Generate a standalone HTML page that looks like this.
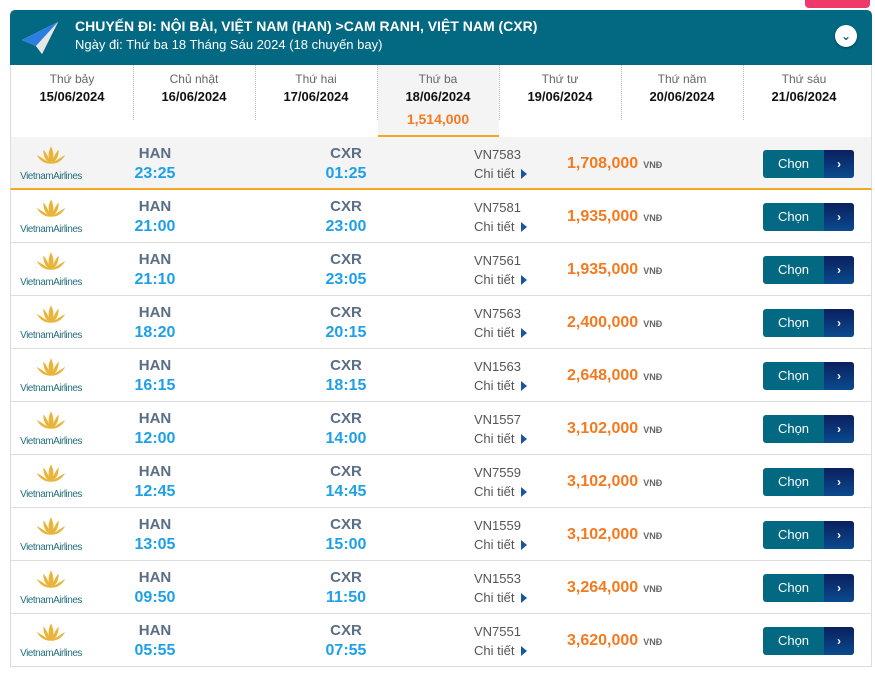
<!DOCTYPE html>
<html><head><meta charset="utf-8"><style>
*{margin:0;padding:0;box-sizing:border-box}
body{width:875px;height:678px;background:#fff;position:relative;overflow:hidden;font-family:"Liberation Sans","DejaVu Sans",sans-serif}
.a{position:absolute;white-space:nowrap}
.hdr{left:10px;top:10px;width:862px;height:55px;background:#036882;border-radius:5px 5px 0 0}
.tab{position:absolute;top:65px;width:122px;height:72px;text-align:center}
.tab .d{position:absolute;top:7px;left:0;right:0;font-size:12px;color:#666}
.tab .t{position:absolute;top:24px;left:0;right:0;font-size:13px;font-weight:bold;color:#111}
.sep{position:absolute;top:65px;height:55px;border-left:1px dotted #bbb}
.row{position:absolute;left:10px;width:862px;height:53px;border-bottom:1px solid #ddd;border-left:1px solid #ddd;border-right:1px solid #ddd}
.row .ap{position:absolute;left:124px;width:40px;text-align:center;top:8px;font-size:15px;font-weight:bold;color:#5a6e85}
.row .tm{position:absolute;left:114px;width:60px;text-align:center;top:28px;font-size:16px;font-weight:bold;color:#1ea0e8}
.row .fn{position:absolute;left:463px;top:10px;font-size:13px;color:#555}
.row .ct{position:absolute;left:463px;top:29px;font-size:13px;color:#555}
.row .ct i{display:inline-block;width:0;height:0;border-left:6px solid #1a56a0;border-top:5px solid transparent;border-bottom:5px solid transparent;margin-left:7px;vertical-align:-1px}
.row .pr{position:absolute;left:556px;top:18px;font-size:16px;font-weight:bold;color:#f37a1f}
.row .pr span{font-size:9px;color:#666;margin-left:5px}
.btn{position:absolute;left:752px;top:13px;width:91px;height:28px;border-radius:3px;overflow:hidden;background:#036882}
.btn b{position:absolute;left:0;width:61px;top:6px;text-align:center;color:#fff;font-size:13px;font-weight:normal}
.btn s{position:absolute;right:0;top:0;width:30px;height:28px;background:linear-gradient(#0b1f5e,#0a4b8f);color:#fff;text-decoration:none;text-align:center;font-size:12px;line-height:28px;font-weight:bold}
.logo{position:absolute;left:5px;top:7px;width:70px;text-align:center}
.logo div{font-size:10px;color:#25707e;margin-top:0px;letter-spacing:-0.5px}
</style></head><body>
<div class="a" style="left:805px;top:0;width:65px;height:8px;background:#f0386b;border-radius:0 0 4px 4px"></div>
<div class="a hdr"></div>
<svg class="a" style="left:20px;top:20px" width="40" height="36" viewBox="0 0 40 36"><polygon points="2,20 38,2 22,34 16,26" fill="#fff"/><polygon points="2,20 38,2 16,26" fill="#2b7fe0"/><polygon points="16,26 38,2 22,34" fill="#e6e6e6"/></svg>
<div class="a" style="left:75px;top:18px;font-size:14px;font-weight:bold;color:#fff">CHUYẾN ĐI: NỘI BÀI, VIỆT NAM (HAN) &gt;CAM RANH, VIỆT NAM (CXR)</div>
<div class="a" style="left:75px;top:37px;font-size:13px;color:#fff">Ngày đi: Thứ ba 18 Tháng Sáu 2024 (18 chuyến bay)</div>
<div class="a" style="left:835px;top:25px;width:22px;height:22px;border-radius:50%;background:#fff;box-shadow:0 1px 2px rgba(0,0,0,.4);text-align:center;font-size:12px;font-weight:bold;color:#036882;line-height:22px">⌄</div>
<div class="a" style="left:10px;top:65px;width:1px;height:72px;background:#ddd"></div>
<div class="a" style="left:871px;top:65px;width:1px;height:72px;background:#ddd"></div>
<div class="a" style="left:378px;top:65px;width:121px;height:72px;background:#f4f4f4;border-bottom:2px solid #f5a623"></div>
<div class="sep" style="left:133px"></div><div class="sep" style="left:255px"></div><div class="sep" style="left:377px"></div><div class="sep" style="left:499px"></div><div class="sep" style="left:621px"></div><div class="sep" style="left:743px"></div>
<div class="tab" style="left:11px"><div class="d">Thứ bảy</div><div class="t">15/06/2024</div></div>
<div class="tab" style="left:133px"><div class="d">Chủ nhật</div><div class="t">16/06/2024</div></div>
<div class="tab" style="left:255px"><div class="d">Thứ hai</div><div class="t">17/06/2024</div></div>
<div class="tab" style="left:377px"><div class="d">Thứ ba</div><div class="t">18/06/2024</div><div class="a" style="top:46px;left:0;right:0;font-size:14px;font-weight:bold;color:#f37a1f">1,514,000</div></div>
<div class="tab" style="left:499px"><div class="d">Thứ tư</div><div class="t">19/06/2024</div></div>
<div class="tab" style="left:621px"><div class="d">Thứ năm</div><div class="t">20/06/2024</div></div>
<div class="tab" style="left:743px"><div class="d">Thứ sáu</div><div class="t">21/06/2024</div></div>
<div class="a" style="left:10px;top:137px;width:862px;height:1px;background:#ddd"></div>
<div id="rows"></div>
<script>
var d=[["23:25","01:25","VN7583","1,708,000"],["21:00","23:00","VN7581","1,935,000"],["21:10","23:05","VN7561","1,935,000"],["18:20","20:15","VN7563","2,400,000"],["16:15","18:15","VN1563","2,648,000"],["12:00","14:00","VN1557","3,102,000"],["12:45","14:45","VN7559","3,102,000"],["13:05","15:00","VN1559","3,102,000"],["09:50","11:50","VN1553","3,264,000"],["05:55","07:55","VN7551","3,620,000"]];
var h="";
var lotus='<svg width="34" height="22" viewBox="0 0 30 20"><g fill="#e8b43a"><path d="M15 2 C12 8 12 14 15 18 C18 14 18 8 15 2Z"/><path d="M8 5 C8 11 10 16 15 18 C13 13 11 8 8 5Z"/><path d="M22 5 C22 11 20 16 15 18 C17 13 19 8 22 5Z"/><path d="M2 10 C5 15 9 18 15 18 C10 15 6 12 2 10Z"/><path d="M28 10 C25 15 21 18 15 18 C20 15 24 12 28 10Z"/></g></svg>';
d.forEach(function(r,i){
var top=137+53*i;
var bg=i==0?"background:#f4f4f4;border-bottom:2px solid #f5a623;":"";
h+='<div class="row" style="top:'+top+'px;'+bg+'"><div class="logo">'+lotus+'<div>VietnamAirlines</div></div>'+
'<div class="ap">HAN</div><div class="tm">'+r[0]+'</div>'+
'<div class="ap" style="left:315px">CXR</div><div class="tm" style="left:305px">'+r[1]+'</div>'+
'<div class="fn">'+r[2]+'</div><div class="ct">Chi tiết<i></i></div>'+
'<div class="pr">'+r[3]+'<span>VNĐ</span></div>'+
'<div class="btn"><b>Chọn</b><s>›</s></div></div>';
});
document.getElementById("rows").innerHTML=h;
</script>
</body></html>
